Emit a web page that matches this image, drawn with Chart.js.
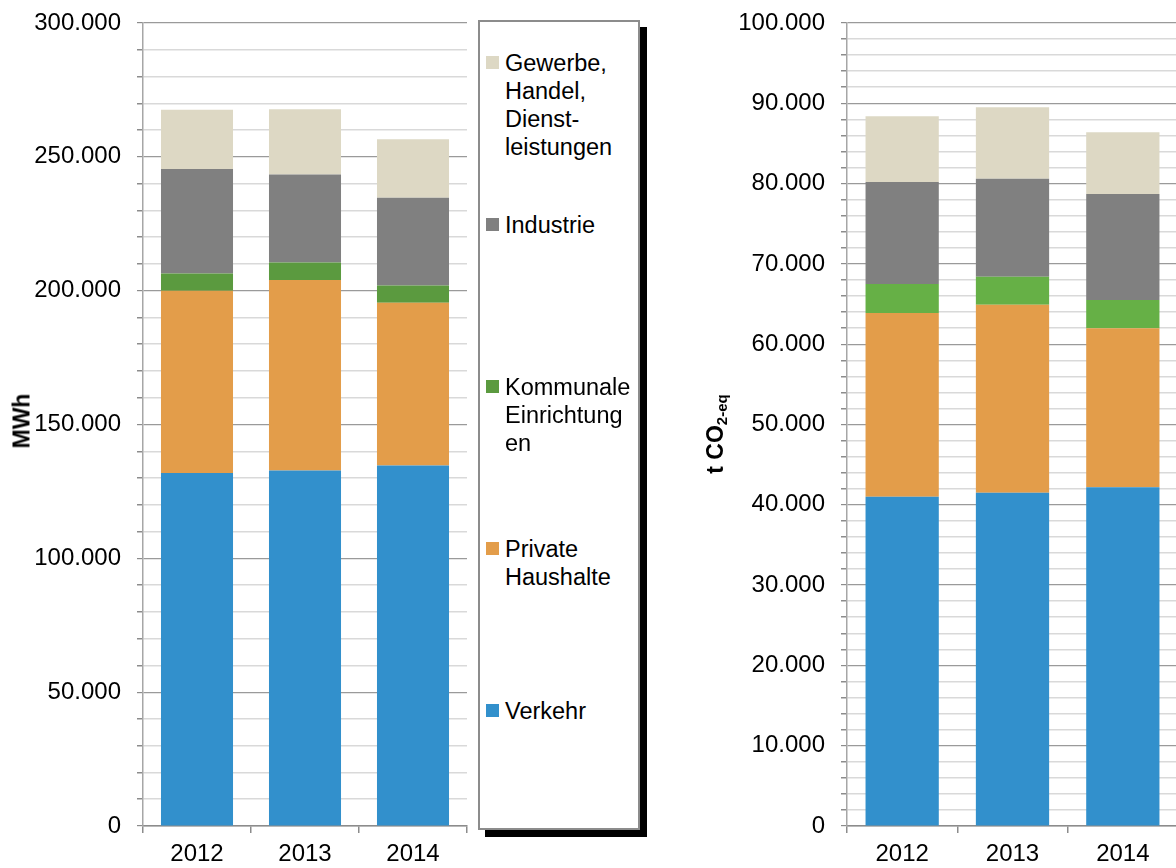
<!DOCTYPE html>
<html><head><meta charset="utf-8">
<script src="https://cdn.jsdelivr.net/npm/chart.js@4.4.1/dist/chart.umd.min.js"></script>
<style>
html,body{margin:0;padding:0;background:#fff;overflow:hidden;width:1176px;height:868px;}
body{position:relative;font-family:"Liberation Sans",Arial,sans-serif;color:#000;}
#c1{position:absolute;left:0;top:0;}
#c2{position:absolute;left:690px;top:0;}
.ytitle{position:absolute;font-weight:bold;font-size:23px;white-space:nowrap;transform:translate(-50%,-50%) rotate(-90deg);line-height:1;}
.ytitle sub{font-size:15px;vertical-align:-4px;}
#legend{position:absolute;left:478px;top:20px;width:158px;height:806px;border:2px solid #8c8c8c;box-shadow:7px 7px 0 #000;background:#fff;}
.item{position:absolute;left:0;font-size:23.5px;line-height:28.2px;}
.sw{position:absolute;left:6px;top:7.5px;width:13px;height:13px;}
.txt{position:absolute;left:25px;top:0;white-space:nowrap;}
</style>
</head><body>
<canvas id="c1" width="470" height="868"></canvas>
<canvas id="c2" width="491" height="868"></canvas>
<div class="ytitle" style="left:22px;top:421px;">MWh</div>
<div class="ytitle" style="left:716px;top:434px;">t CO<sub>2-eq</sub></div>
<div id="legend"></div>
<script>
// ---- data ----
const categories = ['2012', '2013', '2014'];
const seriesNames = ['Verkehr', 'Private Haushalte', 'Kommunale Einrichtungen', 'Industrie', 'Gewerbe, Handel, Dienstleistungen'];

// Energy (MWh)
const verkehrMWh   = [131900, 132800, 134700];
const privateMWh   = [68100, 71200, 60800];
const kommunaleMWh = [6400, 6500, 6400];
const industrieMWh = [39100, 32900, 32800];
const gewerbeMWh   = [22100, 24400, 21900];

// Emissions (t CO2-eq)
const verkehrCO2   = [41000, 41500, 42200];
const privateCO2   = [22900, 23400, 19800];
const kommunaleCO2 = [3600, 3500, 3500];
const industrieCO2 = [12700, 12200, 13200];
const gewerbeCO2   = [8200, 8900, 7700];

// legend (top to bottom, as wrapped in the original)
const legendLines = [
  ['Gewerbe,', 'Handel,', 'Dienst-', 'leistungen'],
  ['Industrie'],
  ['Kommunale', 'Einrichtung', 'en'],
  ['Private', 'Haushalte'],
  ['Verkehr']
];

// ---- styling ----
const colorsLeft  = ['#3290cc', '#e39d4a', '#5b9a3f', '#808080', '#ddd8c4'];
const colorsRight = ['#3290cc', '#e39d4a', '#66b046', '#808080', '#ddd8c4'];
const FONT = '"Liberation Sans", Arial, sans-serif';

function fmt(v) { return String(v).replace(/\B(?=(\d{3})+(?!\d))/g, '.'); }

function makeChart(id, series, colors, maxV, step, major, yWidth, barPct) {
  const datasets = series.map((d, i) => ({
    label: seriesNames[i], data: d, backgroundColor: colors[i],
    borderWidth: 0, barPercentage: barPct, categoryPercentage: 1
  }));
  return new Chart(document.getElementById(id), {
    type: 'bar',
    data: { labels: categories, datasets },
    options: {
      responsive: false, animation: false, devicePixelRatio: 1,
      layout: { padding: { top: 23, right: 3, left: 0, bottom: 0 } },
      plugins: { legend: { display: false }, tooltip: { enabled: false } },
      scales: {
        x: {
          stacked: true,
          afterFit: s => { s.height = 42; s.paddingLeft = 0; s.paddingRight = 0; },
          ticks: { padding: 7, color: '#000', font: { family: FONT, size: 24 } },
          grid: { offset: true, drawOnChartArea: false, tickLength: 7, color: '#8c8c8c', lineWidth: 1.5 },
          border: { color: '#8c8c8c', width: 1.5 }
        },
        y: {
          stacked: true, min: 0, max: maxV,
          afterFit: s => { s.width = yWidth; s.paddingTop = 0; s.paddingBottom = 0; },
          ticks: {
            stepSize: step, autoSkip: false, padding: 16, color: '#000',
            font: { family: FONT, size: 24 },
            callback: v => (v % major === 0 ? fmt(v) : '')
          },
          grid: {
            color: c => (c.tick && c.tick.value % major === 0) ? '#9a9a9a' : '#d9d9d9',
            lineWidth: c => (c.tick && c.tick.value % major === 0) ? 1.2 : 1.5,
            tickLength: 6, tickColor: '#8c8c8c'
          },
          border: { color: '#a6a6a6', width: 1.5 }
        }
      }
    }
  });
}

makeChart('c1', [verkehrMWh, privateMWh, kommunaleMWh, industrieMWh, gewerbeMWh],
  colorsLeft, 300000, 10000, 50000, 143, 0.667);
makeChart('c2', [verkehrCO2, privateCO2, kommunaleCO2, industrieCO2, gewerbeCO2],
  colorsRight, 100000, 2000, 10000, 157, 0.664);

// HTML legend
const lg = document.getElementById('legend');
const legendColors = colorsLeft.slice().reverse();
legendLines.forEach((lines, i) => {
  const it = document.createElement('div');
  it.className = 'item';
  it.style.top = (26.5 + i * 162) + 'px';
  const sw = document.createElement('div');
  sw.className = 'sw'; sw.style.background = legendColors[i];
  const tx = document.createElement('div');
  tx.className = 'txt'; tx.innerHTML = lines.join('<br>');
  it.appendChild(sw); it.appendChild(tx);
  lg.appendChild(it);
});
</script>
</body></html>
